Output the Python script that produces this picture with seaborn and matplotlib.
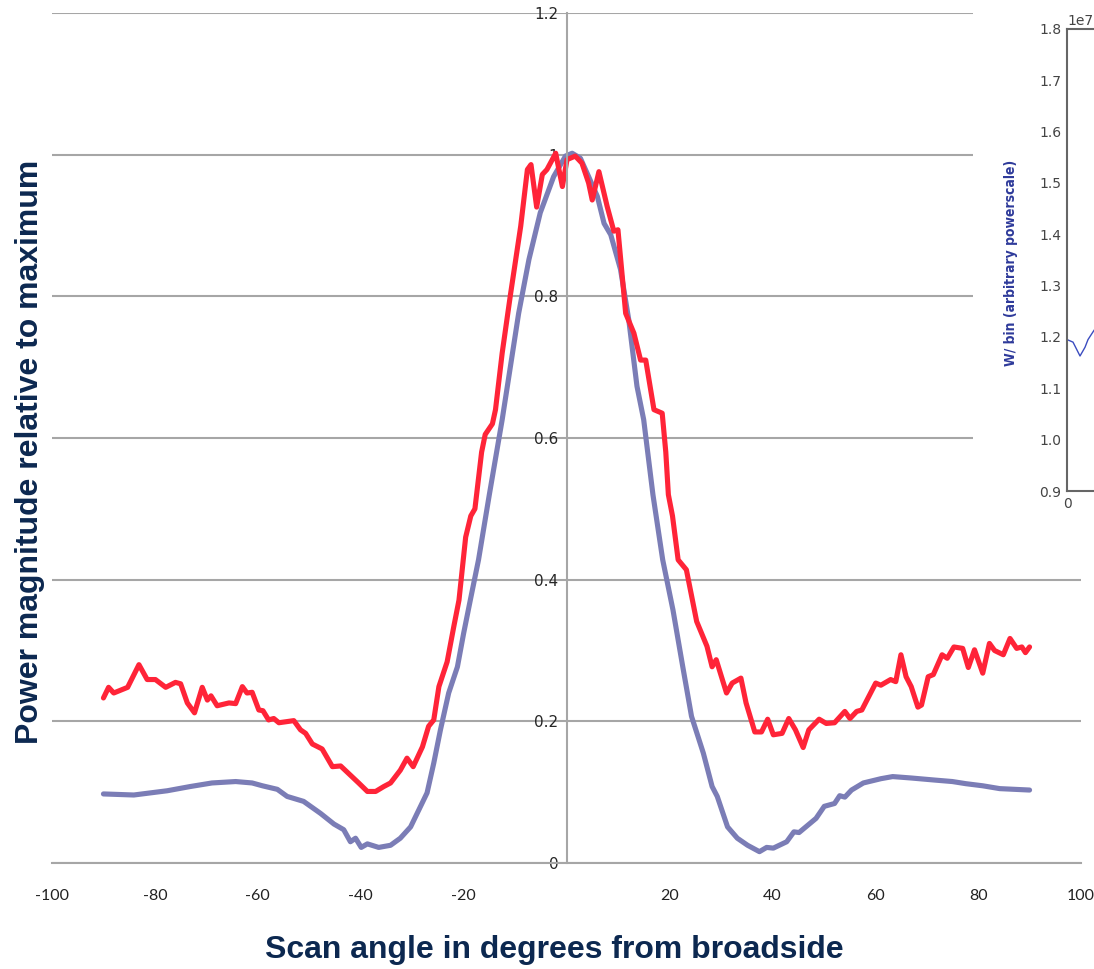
import matplotlib as mpl; mpl.use("Agg")
import matplotlib.pyplot as plt
from matplotlib.patches import Rectangle
import seaborn as sns

# ---- red trace (element pattern, noisy) ----
red_angle = [-90.0, -89.0, -88.0, -85.3, -83.1, -81.5, -79.9, -77.9, -76.0, -75.0,
             -73.7, -72.3, -70.8, -69.8, -69.1, -67.9, -65.6, -64.3, -63.0, -62.1,
             -61.1, -59.8, -59.0, -57.9, -56.9, -55.9, -53.0, -51.7, -50.7, -49.4,
             -47.5, -45.5, -43.9, -41.7, -40.4, -38.7, -37.1, -35.5, -34.2, -32.3,
             -31.0, -29.8, -28.0, -26.8, -25.8, -24.8, -23.2, -21.9, -20.9, -19.6,
             -18.6, -17.8, -16.5, -15.8, -14.4, -13.8, -12.5, -10.9, -8.9, -7.6,
             -6.9, -5.8, -4.7, -3.8, -2.1, -0.8, 0.1, 1.7, 3.0, 4.3,
             5.0, 6.3, 7.9, 9.2, 10.0, 11.5, 13.1, 14.4, 15.4, 17.0,
             18.6, 19.3, 19.8, 20.6, 21.7, 23.3, 25.3, 27.3, 28.3, 29.1,
             31.1, 32.2, 33.9, 34.9, 36.6, 37.9, 39.1, 40.2, 41.9, 43.2,
             44.5, 46.0, 47.1, 49.1, 50.5, 52.1, 54.1, 55.1, 56.4, 57.4,
             60.1, 61.1, 63.0, 64.0, 65.0, 66.0, 67.0, 68.3, 69.0, 70.3,
             71.3, 73.0, 74.0, 75.3, 77.0, 78.1, 79.3, 80.9, 82.2, 83.2,
             84.9, 86.2, 87.5, 88.5, 89.2, 90.0]
red_power = [0.233, 0.248, 0.240, 0.248, 0.280, 0.259, 0.259, 0.248, 0.255, 0.253,
             0.226, 0.212, 0.248, 0.230, 0.236, 0.222, 0.226, 0.225, 0.249, 0.240,
             0.241, 0.216, 0.215, 0.202, 0.204, 0.198, 0.201, 0.188, 0.183, 0.168,
             0.161, 0.136, 0.137, 0.122, 0.113, 0.101, 0.101, 0.108, 0.113, 0.131,
             0.148, 0.136, 0.164, 0.193, 0.202, 0.249, 0.284, 0.334, 0.371, 0.460,
             0.490, 0.500, 0.580, 0.605, 0.620, 0.640, 0.720, 0.802, 0.899, 0.979,
             0.986, 0.926, 0.972, 0.979, 1.002, 0.955, 0.993, 0.998, 0.988, 0.960,
             0.936, 0.976, 0.927, 0.892, 0.894, 0.776, 0.748, 0.710, 0.710, 0.640,
             0.635, 0.580, 0.520, 0.490, 0.428, 0.414, 0.341, 0.306, 0.277, 0.287,
             0.240, 0.254, 0.261, 0.226, 0.185, 0.185, 0.203, 0.181, 0.183, 0.204,
             0.188, 0.163, 0.188, 0.203, 0.197, 0.198, 0.214, 0.204, 0.214, 0.216,
             0.254, 0.251, 0.259, 0.256, 0.294, 0.263, 0.249, 0.220, 0.223, 0.263,
             0.266, 0.294, 0.289, 0.305, 0.303, 0.276, 0.301, 0.268, 0.310, 0.300,
             0.294, 0.317, 0.303, 0.305, 0.297, 0.305]

# ---- blue trace (smooth) ----
blue_angle = [-90.0, -84.1, -77.6, -73.1, -68.9, -64.3, -61.1, -59.1, -56.2, -54.3,
              -51.1, -47.8, -45.2, -43.3, -42.0, -41.0, -39.9, -38.7, -36.5, -34.2,
              -32.3, -30.3, -28.7, -27.1, -25.8, -24.5, -22.9, -21.2, -20.0, -18.7,
              -17.1, -15.0, -12.5, -9.3, -7.3, -5.1, -2.5, -0.2, 1.1, 2.7,
              4.3, 6.0, 7.3, 8.6, 10.5, 12.1, 13.7, 15.0, 16.8, 18.7,
              20.7, 22.6, 24.3, 26.6, 28.3, 29.3, 31.3, 33.2, 35.2, 37.5,
              38.9, 40.2, 42.8, 44.2, 45.2, 48.5, 50.1, 52.1, 53.1, 54.1,
              55.4, 57.7, 61.1, 63.4, 67.0, 71.7, 75.0, 77.6, 80.9, 84.2, 90.0]
blue_power = [0.0975, 0.096, 0.102, 0.108, 0.113, 0.115, 0.113, 0.109, 0.104, 0.094,
              0.087, 0.070, 0.055, 0.047, 0.030, 0.035, 0.022, 0.027, 0.022, 0.025,
              0.035, 0.051, 0.075, 0.099, 0.141, 0.188, 0.240, 0.277, 0.324, 0.371,
              0.428, 0.520, 0.626, 0.776, 0.852, 0.918, 0.969, 0.998, 1.002, 0.995,
              0.969, 0.941, 0.903, 0.887, 0.838, 0.767, 0.673, 0.626, 0.520, 0.428,
              0.357, 0.277, 0.207, 0.155, 0.108, 0.094, 0.051, 0.035, 0.025, 0.016,
              0.022, 0.021, 0.030, 0.044, 0.043, 0.063, 0.080, 0.084, 0.095, 0.093,
              0.103, 0.113, 0.119, 0.122, 0.120, 0.117, 0.115, 0.112, 0.109, 0.105, 0.103]

x_ticks = [-100, -80, -60, -40, -20, 20, 40, 60, 80, 100]
y_ticks = [0, 0.2, 0.4, 0.6, 0.8, 1.0, 1.2]
y_ticklabels = ["0", "0.2", "0.4", "0.6", "0.8", "1", "1.2"]

# ---- pasted fragment of another chart (top right) ----
inset_x = [0, 6, 13, 18, 21, 26, 40]
inset_w = [1.195e7, 1.19e7, 1.163e7, 1.18e7, 1.195e7, 1.21e7, 1.25e7]

RED = "#ff2438"; BLUE = "#7b7db6"; GRID = "#a6a6a6"; NAVY = "#0c2850"
TICKFONT = ["Liberation Sans Narrow", "Lato", "DejaVu Sans"]
LABELFONT = ["Liberation Sans", "DejaVu Sans"]

sns.set_theme(style="white")
W, H = 1094, 969
fig = plt.figure(figsize=(W/100, H/100), dpi=100)
ax = fig.add_axes([52/W, 1-863/H, (1081-52)/W, (863-13)/H])

line_kw = dict(lw=3.7, estimator=None, sort=False, solid_joinstyle="round", solid_capstyle="round")
sns.lineplot(x=blue_angle, y=blue_power, ax=ax, color=BLUE, **line_kw)
sns.lineplot(x=red_angle, y=red_power, ax=ax, color=RED, **line_kw)

ax.set_xlim(-100, 100); ax.set_ylim(0, 1.2)
ax.set_xticks(x_ticks)
ax.set_xticklabels([str(v) for v in x_ticks], fontfamily=TICKFONT, fontsize=11.5, color="#222222")
ax.set_yticks(y_ticks)
ax.set_yticklabels(y_ticklabels, fontfamily=TICKFONT, fontsize=11.5, color="#222222")
ax.yaxis.grid(True, color=GRID, lw=1.5)
ax.xaxis.grid(False)
for s in ("top", "right"): ax.spines[s].set_visible(False)
ax.spines["left"].set_position(("data", 0))
ax.spines["left"].set_color(GRID); ax.spines["left"].set_linewidth(1.5)
ax.spines["bottom"].set_color(GRID); ax.spines["bottom"].set_linewidth(1.5)
ax.tick_params(axis="y", length=0, pad=6)
ax.tick_params(axis="x", length=5, width=1.5, color=GRID, direction="out", pad=14)
ax.set_xlabel(""); ax.set_ylabel("")

fig.text(554/W, 1-950/H, "Scan angle in degrees from broadside", ha="center", va="center",
         fontsize=23, fontweight="bold", color=NAVY, family=LABELFONT)
fig.text(30/W, 1-452/H, "Power magnitude relative to maximum", ha="center", va="center",
         rotation=90, fontsize=23, fontweight="bold", color=NAVY, family=LABELFONT)

# white block of the pasted picture
fig.patches.append(Rectangle((973/W, 1-512/H), 1-973/W, 512/H, transform=fig.transFigure,
                             facecolor="white", edgecolor="none", zorder=5))

axi = fig.add_axes([1067/W, 1-491/H, 0.3, (491-29)/H], zorder=10)
axi.plot(inset_x, inset_w, color="#3b4cc0", lw=1.0)
axi.set_xlim(0, 328); axi.set_ylim(0.9e7, 1.8e7)
axi.set_xticks([0]); axi.set_yticks([0.9e7, 1.0e7, 1.1e7, 1.2e7, 1.3e7, 1.4e7, 1.5e7, 1.6e7, 1.7e7, 1.8e7])
axi.tick_params(direction="in", length=4, width=1, color="#555555", labelsize=10,
                labelcolor="#444444", pad=4)
axi.yaxis.get_offset_text().set_fontsize(10)
axi.yaxis.get_offset_text().set_color("#444444")
for s in axi.spines.values():
    s.set_color("#666666"); s.set_linewidth(1.5)
axi.grid(False)
fig.text(1011/W, 1-263/H, "W/ bin (arbitrary powerscale)", ha="center", va="center",
         rotation=90, fontsize=10, fontweight="bold", color="#2e3a9a",
         fontstretch="condensed", family=["DejaVu Sans"], zorder=11)

fig.savefig("out.png", dpi=100)
